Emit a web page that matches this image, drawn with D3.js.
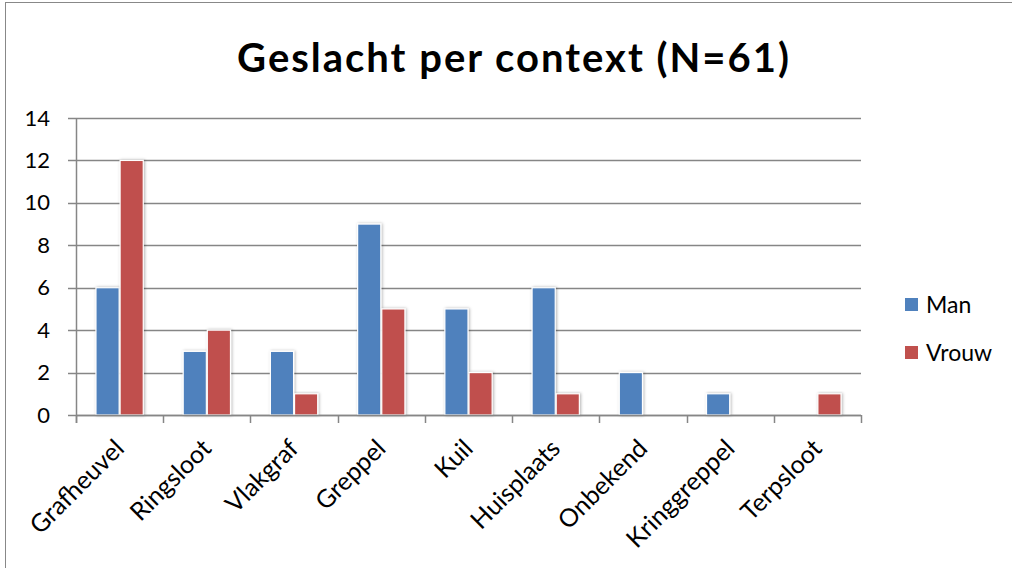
<!DOCTYPE html>
<html>
<head>
<meta charset="utf-8">
<script src="https://cdn.jsdelivr.net/npm/d3@7"></script>
<style>
body{margin:0;background:#fff;}
svg text{font-family:Lato,"Open Sans",sans-serif;fill:#000;}
</style>
</head>
<body>
<svg id="chart"></svg>
<script>
var categories = ["Grafheuvel","Ringsloot","Vlakgraf","Greppel","Kuil","Huisplaats","Onbekend","Kringgreppel","Terpsloot"];
var manValues = [6,3,3,9,5,6,2,1,0];
var vrouwValues = [12,4,1,5,2,1,0,0,1];
var seriesNames = ["Man","Vrouw"];
var seriesColors = ["#4F81BD","#C0504D"];
var yTicks = [0,2,4,6,8,10,12,14];

var screen = {width:1012, height:568};
var margins = {top:118, left:76, right:151, bottom:153};
var graph = {
    width:screen.width-margins.left-margins.right,
    height:screen.height-margins.top-margins.bottom
};

var svg = d3.select("#chart")
    .attr("width",screen.width)
    .attr("height",screen.height);

// outer chart border
svg.append("rect")
    .attr("x",5.5).attr("y",2.5)
    .attr("width",1020).attr("height",600)
    .attr("fill","none")
    .attr("stroke","#888")
    .attr("stroke-width",1);

var defs = svg.append("defs");
var shadow = defs.append("filter").attr("id","shadow")
    .attr("x","-30%").attr("y","-10%").attr("width","160%").attr("height","120%");
shadow.append("feDropShadow")
    .attr("dx",1).attr("dy",0).attr("stdDeviation",1.5)
    .attr("flood-color","#000").attr("flood-opacity",0.3);

var xScale = d3.scaleBand()
    .domain(categories)
    .range([0,graph.width])
    .paddingInner(0)
    .paddingOuter(0);
var xInner = d3.scaleBand()
    .domain(seriesNames)
    .range([19,xScale.bandwidth()-19])
    .padding(0.04);
var yScale = d3.scaleLinear()
    .domain([0,14])
    .range([graph.height,0]);

var g = svg.append("g")
    .attr("transform","translate("+margins.left+","+margins.top+")");

// gridlines
g.append("g")
    .selectAll("line")
    .data(yTicks)
    .enter()
    .append("line")
    .attr("x1",-8)
    .attr("x2",graph.width)
    .attr("y1",function(d){return Math.round(yScale(d))+0.5;})
    .attr("y2",function(d){return Math.round(yScale(d))+0.5;})
    .attr("stroke","#868686")
    .attr("stroke-width",1.5);

// y axis
var yAxis = d3.axisLeft(yScale).tickValues(yTicks).tickSize(0).tickPadding(26);
var ya = g.append("g").call(yAxis);
ya.select(".domain").remove();
ya.selectAll("text")
    .style("font-size","22px")
    .style("font-family","Lato,sans-serif")
    .attr("fill","#000");

g.append("line")
    .attr("x1",0.5).attr("x2",0.5)
    .attr("y1",0).attr("y2",graph.height+8)
    .attr("stroke","#868686").attr("stroke-width",1.5);

// bars
var data = categories.map(function(c,i){
    return {cat:c, values:[manValues[i],vrouwValues[i]]};
});
var groups = g.append("g")
    .selectAll("g")
    .data(data)
    .enter()
    .append("g")
    .attr("transform",function(d){return "translate("+xScale(d.cat)+",0)";});
groups.selectAll("rect")
    .data(function(d){
        return d.values.map(function(v,i){return {name:seriesNames[i],value:v,color:seriesColors[i]};})
            .filter(function(d){return d.value>0;});
    })
    .enter()
    .append("rect")
    .attr("x",function(d){return xInner(d.name);})
    .attr("width",xInner.bandwidth())
    .attr("y",function(d){return yScale(d.value);})
    .attr("height",function(d){return graph.height-yScale(d.value);})
    .attr("fill",function(d){return d.color;})
    .attr("stroke","#fff")
    .attr("stroke-width",1.2)
    .attr("filter","url(#shadow)");

// x axis
g.append("line")
    .attr("x1",0).attr("x2",graph.width)
    .attr("y1",graph.height+0.5).attr("y2",graph.height+0.5)
    .attr("stroke","#868686").attr("stroke-width",1.5);
g.append("g")
    .selectAll("line")
    .data(d3.range(categories.length+1))
    .enter()
    .append("line")
    .attr("x1",function(i){return Math.round(i*xScale.step())+0.5;})
    .attr("x2",function(i){return Math.round(i*xScale.step())+0.5;})
    .attr("y1",graph.height)
    .attr("y2",graph.height+8)
    .attr("stroke","#868686").attr("stroke-width",1.5);

g.append("g")
    .selectAll("text")
    .data(categories)
    .enter()
    .append("text")
    .text(function(d){return d;})
    .attr("text-anchor","end")
    .style("font-size","25px")
    .attr("transform",function(d){
        var x = xScale(d)+xScale.bandwidth()/2+6;
        var y = graph.height+35;
        return "translate("+x+","+y+") rotate(-45)";
    });

// title
svg.append("text")
    .text("Geslacht per context (N=61)")
    .attr("x",514)
    .attr("y",72)
    .attr("text-anchor","middle")
    .style("font-size","40px")
    .style("letter-spacing","2px")
    .style("font-weight","bold");

// legend
var legend = svg.append("g")
    .attr("transform","translate(905,298)");
var items = legend.selectAll("g")
    .data(seriesNames)
    .enter()
    .append("g")
    .attr("transform",function(d,i){return "translate(0,"+(i*48)+")";});
items.append("rect")
    .attr("width",13).attr("height",13)
    .attr("fill",function(d,i){return seriesColors[i];});
items.append("text")
    .text(function(d){return d;})
    .attr("x",21).attr("y",15)
    .style("font-size","23px");
</script>
</body>
</html>
